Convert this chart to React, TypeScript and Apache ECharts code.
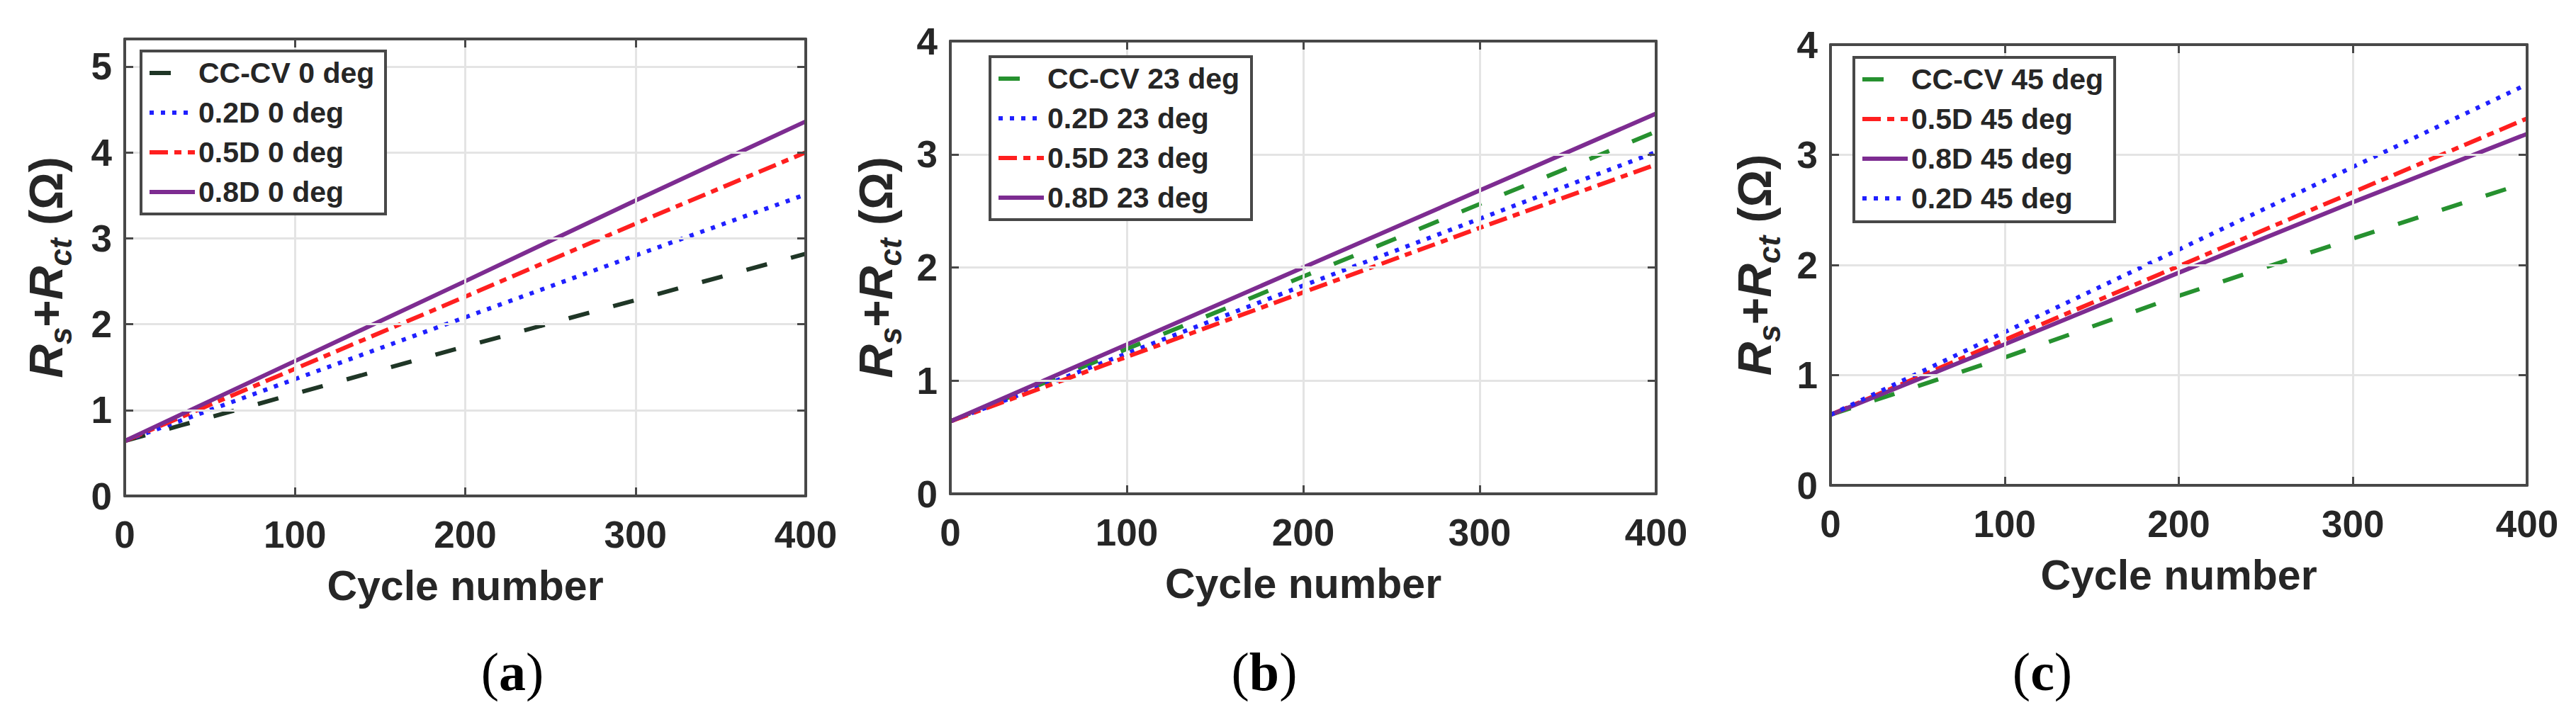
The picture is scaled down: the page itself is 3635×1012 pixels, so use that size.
import React, { useEffect, useRef } from "react";
import * as echarts from "echarts";

// ---- data ----
const cycles = [0, 100, 200, 300, 400];
const xTicks = [0, 100, 200, 300, 400];

const namesA = ["CC-CV 0 deg", "0.2D 0 deg", "0.5D 0 deg", "0.8D 0 deg"];
const ccA = [0.64, 1.19, 1.74, 2.28, 2.82];
const d02A = [0.64, 1.36, 2.08, 2.8, 3.51];
const d05A = [0.64, 1.48, 2.32, 3.17, 4.0];
const d08A = [0.64, 1.57, 2.5, 3.44, 4.36];

const namesB = ["CC-CV 23 deg", "0.2D 23 deg", "0.5D 23 deg", "0.8D 23 deg"];
const ccB = [0.64, 1.28, 1.92, 2.56, 3.2];
const d02B = [0.64, 1.24, 1.84, 2.43, 3.02];
const d05B = [0.64, 1.21, 1.78, 2.35, 2.91];
const d08B = [0.64, 1.32, 2.0, 2.68, 3.36];

const namesC = ["CC-CV 45 deg", "0.5D 45 deg", "0.8D 45 deg", "0.2D 45 deg"];
const ccC = [0.64, 1.16, 1.72, 2.24, 2.75];
const d05C = [0.64, 1.32, 1.99, 2.66, 3.33];
const d08C = [0.64, 1.28, 1.93, 2.57, 3.19];
const d02C = [0.64, 1.39, 2.14, 2.89, 3.64];

const yMaxA = 5.32;
const yMaxB = 4;
const yMaxC = 4;
const panelLabels = ["a", "b", "c"];

// ---- styles ----
const F = "'Liberation Sans', Arial, Helvetica, sans-serif";
const SERIF = "'Liberation Serif', 'Times New Roman', serif";
const TXT = "#262626";
const AX = "#484848";
const GRID = "#e4e4e4";
const LW = 6;

const ST: Record<string, { color: string; type: any }> = {
  ccDark: { color: "#1f3626", type: [30, 35] },
  ccGreen: { color: "#26912f", type: [30, 35] },
  d02: { color: "#2020ff", type: [6, 10] },
  d05: { color: "#ff1f1f", type: [26, 9, 10, 9] },
  d08: { color: "#7d2c91", type: "solid" },
};

const panels = [
  {
    grid: { left: 176, top: 55, width: 961, height: 645 },
    yMax: yMaxA,
    nameGap: 69,
    legendBox: { x: 199, y: 72, w: 345, h: 230 },
    label: { x: 723, y: 948 },
    series: [
      { name: namesA[0], vals: ccA, st: ST.ccDark },
      { name: namesA[1], vals: d02A, st: ST.d02 },
      { name: namesA[2], vals: d05A, st: ST.d05 },
      { name: namesA[3], vals: d08A, st: ST.d08 },
    ],
  },
  {
    grid: { left: 1341, top: 58, width: 996, height: 639 },
    yMax: yMaxB,
    nameGap: 63,
    legendBox: { x: 1397, y: 80, w: 369, h: 230 },
    label: { x: 1784, y: 948 },
    series: [
      { name: namesB[0], vals: ccB, st: ST.ccGreen },
      { name: namesB[1], vals: d02B, st: ST.d02 },
      { name: namesB[2], vals: d05B, st: ST.d05 },
      { name: namesB[3], vals: d08B, st: ST.d08 },
    ],
  },
  {
    grid: { left: 2583, top: 63, width: 983, height: 622 },
    yMax: yMaxC,
    nameGap: 65,
    legendBox: { x: 2616, y: 81, w: 368, h: 232 },
    label: { x: 2882, y: 948 },
    series: [
      { name: namesC[0], vals: ccC, st: ST.ccGreen },
      { name: namesC[1], vals: d05C, st: ST.d05 },
      { name: namesC[2], vals: d08C, st: ST.d08 },
      { name: namesC[3], vals: d02C, st: ST.d02 },
    ],
  },
];

function buildOption() {
  const axisLine = { show: true, onZero: false, lineStyle: { color: AX, width: 4 } };
  const axisTick = { show: true, inside: true, length: 12, lineStyle: { color: AX, width: 3 } };
  const labelStyle = { fontSize: 53, fontWeight: "bold", color: TXT, fontFamily: F };
  const intLabel = (v: number) => (Math.abs(v - Math.round(v)) < 1e-9 ? String(Math.round(v)) : "");

  const grid: any[] = [];
  const xAxis: any[] = [];
  const yAxis: any[] = [];
  const legend: any[] = [];
  const series: any[] = [];
  const graphic: any[] = [];

  panels.forEach((p, i) => {
    grid.push({ ...p.grid, show: false, containLabel: false });
    xAxis.push({
      type: "value",
      gridIndex: i,
      min: xTicks[0],
      max: xTicks[xTicks.length - 1],
      interval: xTicks[1] - xTicks[0],
      position: "bottom",
      axisLine,
      axisTick,
      axisLabel: { ...labelStyle, margin: 28, lineHeight: 53 },
      splitLine: { show: true, showMinLine: false, showMaxLine: false, lineStyle: { color: GRID, width: 3 } },
      name: "Cycle number",
      nameLocation: "middle",
      nameGap: 97,
      nameTextStyle: { fontSize: 59, fontWeight: "bold", color: TXT, fontFamily: F },
      z: 3,
    });
    xAxis.push({
      type: "value",
      gridIndex: i,
      min: xTicks[0],
      max: xTicks[xTicks.length - 1],
      interval: xTicks[1] - xTicks[0],
      position: "top",
      axisLine,
      axisTick,
      axisLabel: { show: false },
      splitLine: { show: false },
      z: 3,
    });
    yAxis.push({
      type: "value",
      gridIndex: i,
      min: 0,
      max: p.yMax,
      interval: 1,
      position: "left",
      axisLine,
      axisTick,
      axisLabel: { ...labelStyle, margin: 18, formatter: intLabel },
      splitLine: { show: true, showMinLine: false, showMaxLine: false, lineStyle: { color: GRID, width: 3 } },
      name: "{i|R}{s|s}{n|+}{i|R}{s|ct}{n| (Ω)}",
      nameLocation: "middle",
      nameRotate: 90,
      nameGap: p.nameGap,
      nameTextStyle: {
        rich: {
          i: { fontSize: 66, fontWeight: "bold", fontStyle: "italic", fontFamily: F, color: TXT, lineHeight: 84 },
          s: { fontSize: 44, fontWeight: "bold", fontStyle: "italic", fontFamily: F, color: TXT, lineHeight: 44, verticalAlign: "bottom" },
          n: { fontSize: 66, fontWeight: "bold", fontFamily: F, color: TXT, lineHeight: 84 },
        },
      },
      z: 3,
    });
    yAxis.push({
      type: "value",
      gridIndex: i,
      min: 0,
      max: p.yMax,
      interval: 1,
      position: "right",
      axisLine,
      axisTick,
      axisLabel: { show: false },
      splitLine: { show: false },
      z: 3,
    });
    const b = p.legendBox;
    graphic.push({
      type: "rect",
      z: 5,
      silent: true,
      shape: { x: b.x, y: b.y, width: b.w, height: b.h },
      style: { fill: "#ffffff", stroke: AX, lineWidth: 4 },
    });
    legend.push({
      orient: "vertical",
      left: b.x + 9,
      top: b.y + 9,
      padding: 0,
      itemGap: 12,
      itemWidth: 64,
      itemHeight: 14,
      selectedMode: false,
      data: p.series.map((s) => s.name),
      textStyle: { fontSize: 41, fontWeight: "bold", color: TXT, fontFamily: F, lineHeight: 44 },
      lineStyle: { width: LW },
      itemStyle: { opacity: 0 },
      z: 10,
    });
    p.series.forEach((s, k) => {
      series.push({
        type: "line",
        name: s.name,
        xAxisIndex: 2 * i,
        yAxisIndex: 2 * i,
        data: cycles.map((c, j) => [c, s.vals[j]]),
        symbol: "none",
        showSymbol: false,
        silent: true,
        clip: true,
        lineStyle: { color: s.st.color, width: LW, type: s.st.type, cap: "butt" },
        itemStyle: { color: s.st.color },
        emphasis: { disabled: true },
        z: 2 + k * 0.01,
      });
    });
    graphic.push({
      type: "text",
      x: p.label.x,
      y: p.label.y,
      style: {
        text: `{p|(}{b|${panelLabels[i]}}{p|)}`,
        align: "center",
        verticalAlign: "middle",
        rich: {
          p: { fontSize: 76, fontFamily: SERIF, color: "#000" },
          b: { fontSize: 76, fontWeight: "bold", fontFamily: SERIF, color: "#000" },
        },
      },
    });
  });

  return {
    animation: false,
    backgroundColor: "#ffffff",
    grid,
    xAxis,
    yAxis,
    legend,
    series,
    graphic,
  };
}

export default function App() {
  const ref = useRef<HTMLDivElement>(null);
  useEffect(() => {
    document.body.style.margin = "0";
    if (!ref.current) return;
    const chart = echarts.init(ref.current, null, { renderer: "svg" });
    chart.setOption(buildOption() as any);
    return () => chart.dispose();
  }, []);
  return <div ref={ref} style={{ width: 3635, height: 1012, background: "#fff" }} />;
}
